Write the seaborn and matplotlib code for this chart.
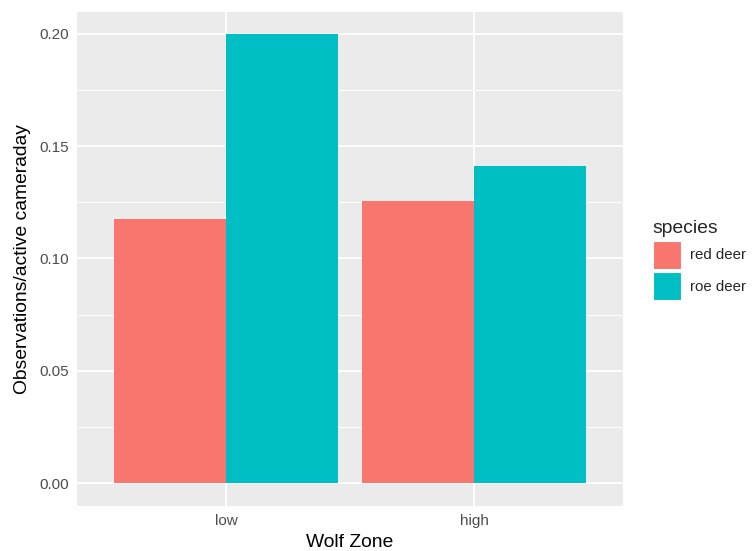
import matplotlib.pyplot as plt
import seaborn as sns
import pandas as pd

# values
zones = ["low", "high"]
species = ["red deer", "roe deer"]
red_deer = [0.1175, 0.1254]
roe_deer = [0.1996, 0.1409]
colors = ["#F8766D", "#00BFC4"]

df = pd.DataFrame({
    "zone": zones * 2,
    "species": [species[0]] * 2 + [species[1]] * 2,
    "rate": red_deer + roe_deer,
})

sns.set_theme(style="darkgrid")
plt.rcParams["font.family"] = ["Liberation Sans", "DejaVu Sans"]

fig = plt.figure(figsize=(7.53, 5.51), dpi=100)
ax = fig.add_axes([77 / 753, 1 - 505.7 / 551, 546 / 753, 493.7 / 551])

sns.barplot(data=df, x="zone", y="rate", hue="species", order=zones,
            hue_order=species, palette=colors, width=0.9, gap=0,
            saturation=1, linewidth=0, ax=ax)

ax.set_facecolor("#EBEBEB")
ax.set_xlim(-0.6, 1.6)
ax.set_ylim(-0.00998, 0.2096)
ax.set_yticks([0.0, 0.05, 0.10, 0.15, 0.20])
ax.set_yticklabels(["0.00", "0.05", "0.10", "0.15", "0.20"])
ax.set_yticks([0.025, 0.075, 0.125, 0.175], minor=True)
ax.grid(which="major", color="white", linewidth=1.4)
ax.grid(which="minor", axis="y", color="white", linewidth=0.7)
ax.grid(which="minor", axis="x", visible=False)
ax.set_axisbelow(True)
for s in ax.spines.values():
    s.set_visible(False)

ax.tick_params(axis="both", which="major", length=3.5, width=1.2,
               color="#333333", labelcolor="#4D4D4D", labelsize=11, pad=2.5)
ax.tick_params(which="minor", length=0)

ax.set_xlabel("Wolf Zone", fontsize=13.9, color="black", labelpad=4)
ax.set_ylabel("Observations/active cameraday", fontsize=13.9,
              color="black", labelpad=6)

handles, labels = ax.get_legend_handles_labels()
ax.get_legend().remove()
for h in handles:
    h.set_edgecolor("white")
    h.set_linewidth(0.8)
fig.legend(handles, labels, title="species", loc="center left",
           bbox_to_anchor=(645 / 753, 1 - 260 / 551), frameon=False,
           fontsize=10.8, title_fontsize=13.9, alignment="left",
           handlelength=1.87, handleheight=2.45, handletextpad=0.65,
           labelspacing=0.25, borderpad=0)

fig.savefig("out.png", dpi=100)
